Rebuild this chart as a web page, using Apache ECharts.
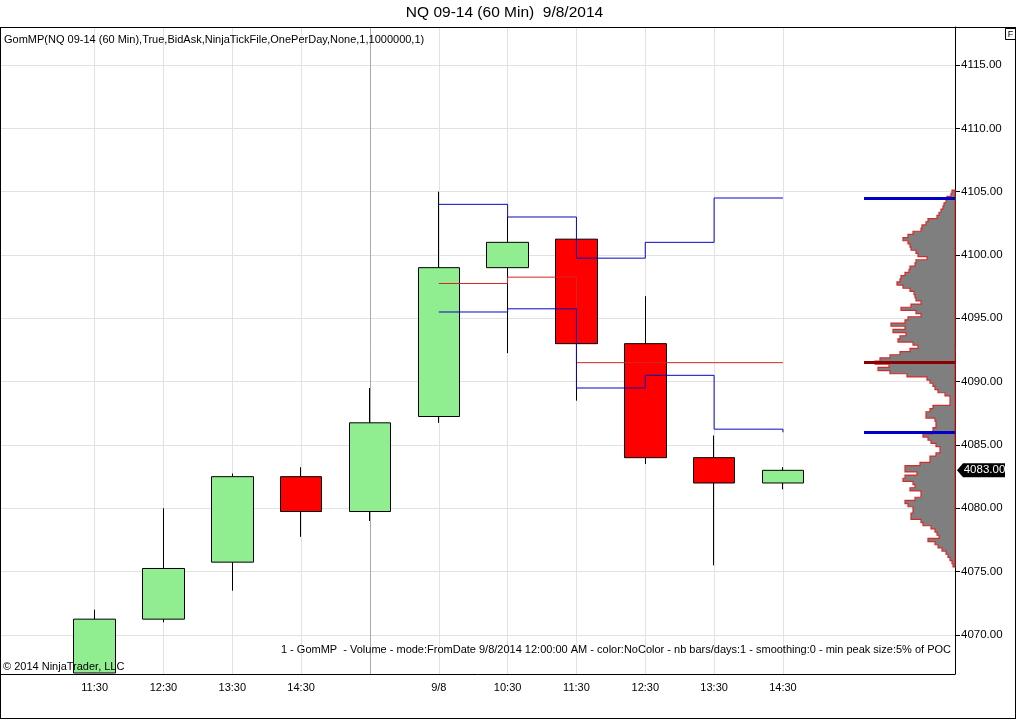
<!DOCTYPE html>
<html><head><meta charset="utf-8">
<script src="https://cdn.jsdelivr.net/npm/echarts@6/dist/echarts.min.js"></script>
<style>html,body{margin:0;padding:0;background:#fff}#c{width:1016px;height:720px}</style>
</head><body><div id="c"></div>
<script>
// ---- data ----
const categories = ['', '11:30', '12:30', '13:30', '14:30', '15:15', '9/8', '10:30', '11:30', '12:30', '13:30', '14:30', '', ''];
const opens  = ['-', 4067.00, 4071.25, 4075.75, 4082.50, 4079.75, 4087.25, 4099.00, 4101.25, 4093.00, 4084.00, 4082.00, '-', '-'];
const closes = ['-', 4071.25, 4075.25, 4082.50, 4079.75, 4086.75, 4099.00, 4101.00, 4093.00, 4084.00, 4082.00, 4083.00, '-', '-'];
const lows   = ['-', 4067.00, 4071.00, 4073.50, 4077.75, 4079.00, 4086.75, 4092.25, 4088.50, 4083.50, 4075.50, 4081.50, '-', '-'];
const highs  = ['-', 4072.00, 4080.00, 4082.75, 4083.25, 4089.50, 4105.00, 4103.00, 4101.25, 4096.75, 4085.75, 4083.25, '-', '-'];
const vahDev = ['-', '-', '-', '-', '-', '-', 4104.00, 4103.00, 4099.75, 4101.00, 4104.50, 4104.50, '-', '-'];
const pocDev = ['-', '-', '-', '-', '-', '-', 4097.75, 4098.25, 4091.50, 4091.50, 4091.50, 4091.50, '-', '-'];
const valDev = ['-', '-', '-', '-', '-', '-', 4095.50, 4095.75, 4089.50, 4090.50, 4086.25, 4086.00, '-', '-'];
const sessionBreakIndex = 5;

const profilePrices = [
 4105.00,4104.75,4104.50,4104.25,4104.00,4103.75,4103.50,4103.25,4103.00,4102.75,
 4102.50,4102.25,4102.00,4101.75,4101.50,4101.25,4101.00,4100.75,4100.50,4100.25,
 4100.00,4099.75,4099.50,4099.25,4099.00,4098.75,4098.50,4098.25,4098.00,4097.75,
 4097.50,4097.25,4097.00,4096.75,4096.50,4096.25,4096.00,4095.75,4095.50,4095.25,
 4095.00,4094.75,4094.50,4094.25,4094.00,4093.75,4093.50,4093.25,4093.00,4092.75,
 4092.50,4092.25,4092.00,4091.75,4091.50,4091.25,4091.00,4090.75,4090.50,4090.25,
 4090.00,4089.75,4089.50,4089.25,4089.00,4088.75,4088.50,4088.25,4088.00,4087.75,
 4087.50,4087.25,4087.00,4086.75,4086.50,4086.25,4086.00,4085.75,4085.50,4085.25,
 4085.00,4084.75,4084.50,4084.25,4084.00,4083.75,4083.50,4083.25,4083.00,4082.75,
 4082.50,4082.25,4082.00,4081.75,4081.50,4081.25,4081.00,4080.75,4080.50,4080.25,
 4080.00,4079.75,4079.50,4079.25,4079.00,4078.75,4078.50,4078.25,4078.00,4077.75,
 4077.50,4077.25,4077.00,4076.75,4076.50,4076.25,4076.00,4075.75,4075.50
];
const profileVolume = [
 3,4,8,9,11,12,14,16,18,27,
 29,33,34,42,47,52,47,45,44,39,
 37,28,39,40,45,46,50,54,55,58,
 52,45,41,40,39,34,44,54,39,34,
 47,50,64,50,62,49,55,57,42,37,
 45,55,65,75,80,66,77,65,48,28,
 25,22,20,17,10,5,5,5,22,25,
 29,29,20,19,19,22,22,32,27,24,
 19,15,15,19,25,25,35,50,50,38,
 50,52,42,40,45,34,34,40,50,47,
 42,42,44,44,34,32,24,20,18,16,
 27,20,17,13,9,7,5,3,2
];
const profileVAH = 4104.50;
const profilePOC = 4091.50;
const profileVAL = 4086.00;
const TICK = 0.25;

// ---- helpers ----
// developing level of bar i is drawn from bar i to the next bar, with a vertical step at each bar
function stepPoints(values) {
  const idx = [];
  values.forEach((v, i) => { if (v !== '-') idx.push(i); });
  const pts = [];
  idx.forEach((i, k) => {
    pts.push([i, values[i]]);
    if (k < idx.length - 1) pts.push([idx[k + 1], values[i]]);
  });
  return pts;
}

// ---- chart ----
const FONT = 'Liberation Sans, Arial, sans-serif';
const chart = echarts.init(document.getElementById('c'), null, {renderer: 'canvas'});
const candleData = categories.map((c, i) => [opens[i], closes[i], lows[i], highs[i]]);
const lastIdx = closes.reduce((a, v, i) => (v !== '-' ? i : a), 0);
const lastPrice = closes[lastIdx];

const gridMarks = [];
categories.forEach((c, i) => {
  if (c === '') return;
  gridMarks.push({xAxis: i, lineStyle: {color: i === sessionBreakIndex ? '#a9a9a9' : '#e2e2e2', width: 1, type: 'solid'}});
});

const Y_MIN = 4066.92, Y_MAX = 4118.0;

chart.setOption({
  animation: false,
  backgroundColor: '#ffffff',
  textStyle: {fontFamily: FONT},
  grid: [
    {left: -8.6, right: 61, top: 27, bottom: 46, containLabel: false, outerBoundsMode: 'none'},
    {left: 864, right: 61, top: 27, bottom: 46, containLabel: false, outerBoundsMode: 'none'}
  ],
  xAxis: [
    {
      type: 'category', data: categories, boundaryGap: true, gridIndex: 0,
      axisLine: {show: true, lineStyle: {color: '#000', width: 1}},
      axisTick: {show: false},
      axisLabel: {
        color: '#000', fontSize: 11, fontFamily: FONT, margin: 8,
        interval: function (index, value) { return value !== '' && index !== sessionBreakIndex; }
      },
      splitLine: {show: false}
    },
    {
      type: 'value', gridIndex: 1, min: 0, max: 91, inverse: true, show: false
    }
  ],
  yAxis: [
    {
      type: 'value', gridIndex: 0, position: 'right', min: Y_MIN, max: Y_MAX, splitNumber: 10,
      axisLine: {show: true, lineStyle: {color: '#000', width: 1}},
      axisTick: {show: true, length: 5, lineStyle: {color: '#000'}},
      axisLabel: {
        color: '#000', fontSize: 11.5, fontFamily: FONT, margin: 6,
        showMinLabel: false, showMaxLabel: false,
        formatter: function (v) { return v.toFixed(2); }
      },
      splitLine: {show: true, lineStyle: {color: '#e2e2e2', width: 1}}
    },
    {
      type: 'value', gridIndex: 1, min: Y_MIN, max: Y_MAX, show: false
    }
  ],
  series: [
    {
      type: 'candlestick', xAxisIndex: 0, yAxisIndex: 0, z: 3,
      data: candleData, barWidth: 42, clip: true,
      itemStyle: {color: '#90ee90', color0: '#ff0000', borderColor: '#000', borderColor0: '#000', borderWidth: 1},
      markLine: {
        silent: true, symbol: ['none', 'none'], z: 1, label: {show: false},
        data: gridMarks, animation: false
      }
    },
    {
      type: 'line', name: 'POC', xAxisIndex: 0, yAxisIndex: 0, z: 4, data: stepPoints(pocDev),
      showSymbol: false, symbol: 'none', lineStyle: {color: '#d02828', width: 1}
    },
    {
      type: 'line', name: 'VAH', xAxisIndex: 0, yAxisIndex: 0, z: 5, data: stepPoints(vahDev),
      showSymbol: false, symbol: 'none', lineStyle: {color: '#0808c0', width: 1}
    },
    {
      type: 'line', name: 'VAL', xAxisIndex: 0, yAxisIndex: 0, z: 5, data: stepPoints(valDev),
      showSymbol: false, symbol: 'none', lineStyle: {color: '#0808c0', width: 1}
    },
    {
      type: 'custom', name: 'Profile', xAxisIndex: 1, yAxisIndex: 1, z: 3, clip: false,
      data: profilePrices.map((p, i) => [profileVolume[i], p]),
      renderItem: function (params, api) {
        if (params.dataIndex !== 0) return null;
        const n = profilePrices.length, h = TICK / 2;
        const pts = [api.coord([0, profilePrices[0] + h])];
        for (let i = 0; i < n; i++) {
          pts.push(api.coord([profileVolume[i], profilePrices[i] + h]));
          pts.push(api.coord([profileVolume[i], profilePrices[i] - h]));
        }
        pts.push(api.coord([0, profilePrices[n - 1] - h]));
        return {type: 'polygon', shape: {points: pts}, style: {fill: '#7f7f7f', stroke: '#d42c2c', lineWidth: 1.2}};
      },
      markLine: {
        silent: true, symbol: ['none', 'none'], z: 6, label: {show: false}, animation: false,
        data: [
          {yAxis: profileVAH, lineStyle: {color: '#0000c8', width: 3, type: 'solid'}},
          {yAxis: profilePOC, lineStyle: {color: '#8b0000', width: 3, type: 'solid'}},
          {yAxis: profileVAL, lineStyle: {color: '#0000c8', width: 3, type: 'solid'}}
        ]
      }
    },
    {
      type: 'custom', name: 'LastPrice', xAxisIndex: 1, yAxisIndex: 1, z: 8, clip: false,
      data: [[0, lastPrice]],
      renderItem: function (params, api) {
        const p = api.coord([api.value(0), api.value(1)]);
        const x = p[0], y = p[1];
        return {
          type: 'group', children: [
            {type: 'polygon', shape: {points: [[x + 2, y], [x + 8, y - 7], [x + 50, y - 7], [x + 50, y + 7], [x + 8, y + 7]]}, style: {fill: '#000'}},
            {type: 'text', style: {text: lastPrice.toFixed(2), x: x + 29.5, y: y, align: 'center', verticalAlign: 'middle', fill: '#fff', font: '11.5px ' + FONT}}
          ]
        };
      }
    }
  ],
  graphic: [
    {type: 'text', x: 504.5, y: 13, style: {text: 'NQ 09-14 (60 Min)  9/8/2014', align: 'center', verticalAlign: 'middle', fill: '#000', font: '15.5px ' + FONT}, z: 20},
    {type: 'text', x: 4, y: 40, style: {text: 'GomMP(NQ 09-14 (60 Min),True,BidAsk,NinjaTickFile,OnePerDay,None,1,1000000,1)', align: 'left', verticalAlign: 'middle', fill: '#000', font: '11px ' + FONT}, z: 20},
    {type: 'text', x: 951, y: 650, style: {text: '1 - GomMP  - Volume - mode:FromDate 9/8/2014 12:00:00 AM - color:NoColor - nb bars/days:1 - smoothing:0 - min peak size:5% of POC', align: 'right', verticalAlign: 'middle', fill: '#000', font: '11px ' + FONT}, z: 20},
    {type: 'text', x: 3, y: 667, style: {text: '\u00a9 2014 NinjaTrader, LLC', align: 'left', verticalAlign: 'middle', fill: '#000', font: '11px ' + FONT}, z: 20},
    {type: 'line', shape: {x1: 0, y1: 27.5, x2: 1016, y2: 27.5}, style: {stroke: '#000', lineWidth: 1}, z: 20},
    {type: 'line', shape: {x1: 0, y1: 718.5, x2: 1016, y2: 718.5}, style: {stroke: '#000', lineWidth: 1}, z: 20},
    {type: 'line', shape: {x1: 0.5, y1: 27, x2: 0.5, y2: 719}, style: {stroke: '#000', lineWidth: 1}, z: 20},
    {type: 'line', shape: {x1: 1015.5, y1: 27, x2: 1015.5, y2: 719}, style: {stroke: '#000', lineWidth: 1}, z: 20},
    {type: 'rect', shape: {x: 1005.5, y: 28.5, width: 10, height: 11}, style: {fill: '#fff', stroke: '#000', lineWidth: 1}, z: 20},
    {type: 'text', x: 1010.5, y: 34.5, style: {text: 'F', align: 'center', verticalAlign: 'middle', fill: '#000', font: '9px ' + FONT}, z: 21}
  ]
});
</script>
</body></html>
